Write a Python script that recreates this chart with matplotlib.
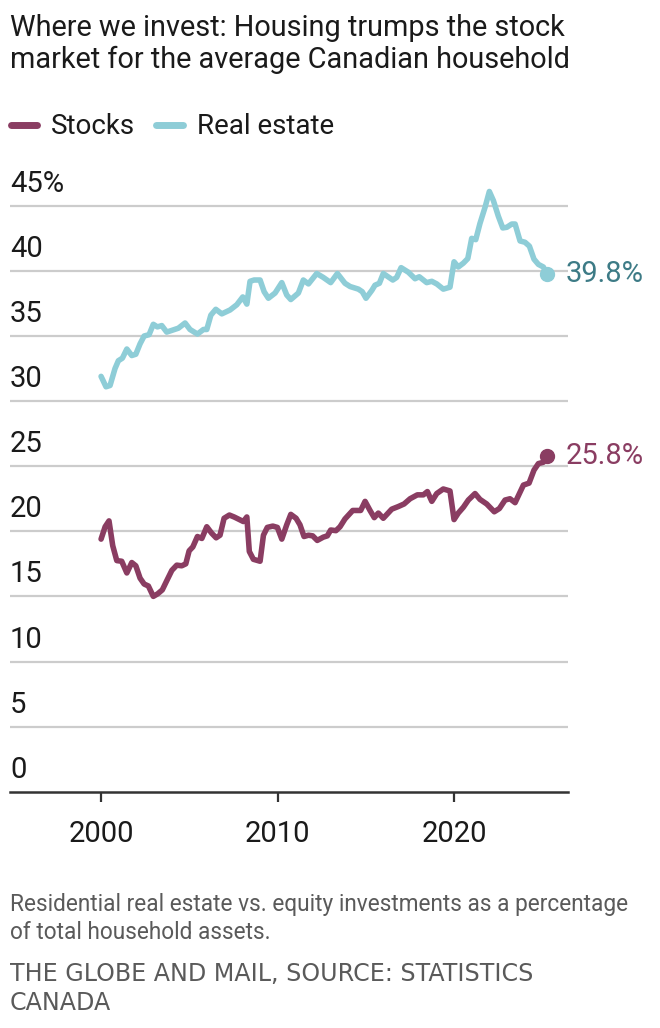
import matplotlib
matplotlib.use("Agg")
import matplotlib.pyplot as plt
import matplotlib.transforms as mtransforms
from matplotlib.lines import Line2D

# ---------------- data ----------------
years_re = [2000.00, 2000.28, 2000.51, 2000.79, 2000.98, 2001.21, 2001.46, 2001.74, 2001.97,
            2002.21, 2002.44, 2002.72, 2002.96, 2003.19, 2003.44, 2003.72, 2004.38, 2004.76,
            2005.04, 2005.46, 2005.80, 2005.99, 2006.22, 2006.50, 2006.84, 2007.31, 2007.69,
            2008.03, 2008.26, 2008.44, 2008.67, 2009.01, 2009.24, 2009.48, 2009.86, 2010.24,
            2010.52, 2010.75, 2011.18, 2011.46, 2011.75, 2012.22, 2012.59, 2013.01, 2013.39,
            2013.82, 2014.11, 2014.58, 2014.80, 2015.01, 2015.34, 2015.52, 2015.77, 2015.99,
            2016.53, 2016.75, 2017.00, 2017.41, 2017.79, 2018.03, 2018.45, 2018.74, 2019.02,
            2019.39, 2019.77, 2020.00, 2020.24, 2020.53, 2020.78, 2021.00, 2021.23, 2021.47,
            2021.76, 2022.00, 2022.23, 2022.51, 2022.76, 2022.99, 2023.27, 2023.46, 2023.74,
            2024.02, 2024.27, 2024.53, 2024.78, 2025.06, 2025.25]
real_estate = [31.9, 31.1, 31.2, 32.5, 33.1, 33.3, 34.0, 33.5, 33.6,
               34.4, 35.0, 35.1, 35.9, 35.7, 35.8, 35.3, 35.6, 36.0,
               35.5, 35.15, 35.5, 35.5, 36.6, 37.05, 36.7, 37.0, 37.4,
               38.0, 37.45, 39.2, 39.3, 39.3, 38.4, 37.9, 38.3, 39.1,
               38.15, 37.8, 38.3, 39.3, 39.0, 39.8, 39.5, 39.1, 39.8,
               39.05, 38.8, 38.6, 38.4, 37.9, 38.5, 38.9, 39.05, 39.8,
               39.3, 39.5, 40.25, 39.9, 39.4, 39.55, 39.1, 39.2, 39.0,
               38.6, 38.75, 40.7, 40.3, 40.6, 40.95, 42.5, 42.4, 43.65,
               44.9, 46.1, 45.4, 44.2, 43.3, 43.35, 43.6, 43.6, 42.3,
               42.2, 41.9, 40.9, 40.5, 40.3, 39.8]

years_st = [2000.00, 2000.23, 2000.45, 2000.66, 2000.89, 2001.17, 2001.46, 2001.74, 2001.97,
            2002.21, 2002.44, 2002.68, 2002.96, 2003.21, 2003.47, 2003.72, 2004.01, 2004.29,
            2004.57, 2004.80, 2004.99, 2005.20, 2005.46, 2005.71, 2005.99, 2006.27, 2006.52,
            2006.74, 2006.97, 2007.27, 2007.54, 2007.84, 2008.06, 2008.26, 2008.40, 2008.63,
            2009.01, 2009.20, 2009.42, 2009.73, 2009.99, 2010.24, 2010.52, 2010.75, 2011.05,
            2011.27, 2011.50, 2011.75, 2011.99, 2012.25, 2012.59, 2012.82, 2013.01, 2013.31,
            2013.54, 2013.82, 2014.26, 2014.71, 2014.96, 2015.24, 2015.48, 2015.71, 2015.99,
            2016.47, 2016.84, 2017.17, 2017.51, 2017.92, 2018.26, 2018.49, 2018.74, 2019.02,
            2019.39, 2019.77, 2020.00, 2020.24, 2020.53, 2020.81, 2021.19, 2021.47, 2021.85,
            2022.28, 2022.57, 2022.89, 2023.17, 2023.46, 2023.93, 2024.25, 2024.53, 2024.78,
            2025.06, 2025.25]
stocks = [19.4, 20.35, 20.8, 18.9, 17.75, 17.7, 16.8, 17.6, 17.35,
          16.4, 15.95, 15.8, 15.0, 15.2, 15.5, 16.2, 17.0, 17.4,
          17.35, 17.5, 18.5, 18.8, 19.6, 19.45, 20.35, 19.85, 19.5,
          19.7, 21.0, 21.25, 21.1, 20.9, 20.75, 21.1, 18.45, 17.85,
          17.7, 19.7, 20.3, 20.4, 20.3, 19.4, 20.5, 21.3, 21.0,
          20.5, 19.6, 19.7, 19.65, 19.3, 19.55, 19.65, 20.1, 20.05,
          20.35, 20.95, 21.6, 21.6, 22.3, 21.6, 21.05, 21.4, 21.0,
          21.7, 21.9, 22.1, 22.5, 22.8, 22.8, 23.05, 22.3, 22.9,
          23.25, 23.1, 20.9, 21.4, 21.85, 22.4, 22.9, 22.45, 22.1,
          21.5, 21.75, 22.4, 22.5, 22.2, 23.55, 23.7, 24.7, 25.2,
          25.3, 25.8]

y_ticks = [0, 5, 10, 15, 20, 25, 30, 35, 40, 45]
y_tick_labels = ["0", "5", "10", "15", "20", "25", "30", "35", "40", "45%"]
x_ticks = [2000, 2010, 2020]
x_tick_labels = ["2000", "2010", "2020"]
series_names = ["Stocks", "Real estate"]

title = "Where we invest: Housing trumps the stock\nmarket for the average Canadian household"
note = "Residential real estate vs. equity investments as a percentage\nof total household assets."
source = "THE GLOBE AND MAIL, SOURCE: STATISTICS\nCANADA"

# ---------------- style ----------------
C_STOCK = "#8a3d62"
C_RE = "#8ecdd7"
C_RE_TXT = "#3d7b86"
C_TEXT = "#1a1a1a"
C_GREY = "#5a5a5a"
FONT = ["Roboto", "DejaVu Sans"]
plt.rcParams["font.family"] = FONT

W, H = 660, 1028
fig = plt.figure(figsize=(W / 100, H / 100), dpi=100)

x0, x1 = 1994.84, 2026.44
ymax = 47.0
left_px, right_px = 10, 567.7
zero_px = 791.7
px_per_unit = 13.02
ax = fig.add_axes([left_px / W, 1 - zero_px / H,
                   (right_px - left_px) / W, ymax * px_per_unit / H])
ax.set_xlim(x0, x1)
ax.set_ylim(0, ymax)

for s in ["top", "right", "left"]:
    ax.spines[s].set_visible(False)
ax.spines["bottom"].set_color("#333333")
ax.spines["bottom"].set_linewidth(1.8)
ax.spines["bottom"].set_zorder(5)

ax.set_yticks(y_ticks[1:])
ax.yaxis.grid(True, color="#cccccc", linewidth=1.6)
ax.tick_params(axis="y", length=0, labelleft=False)
ax.set_axisbelow(True)

ax.set_xticks(x_ticks)
ax.set_xticklabels(x_tick_labels)
ax.tick_params(axis="x", direction="out", length=7.5, width=1.6, color="#333333",
               pad=13, labelsize=21, labelcolor=C_TEXT)

ytrans = mtransforms.blended_transform_factory(ax.transAxes, ax.transData)
for v, lab in zip(y_ticks, y_tick_labels):
    ax.text(0, v, lab, transform=ytrans + mtransforms.ScaledTranslation(0, 8 / 100, fig.dpi_scale_trans),
            ha="left", va="bottom", fontsize=21, color=C_TEXT)

ax.plot(years_re, real_estate, color=C_RE, lw=4.0, solid_joinstyle="round",
        solid_capstyle="round", zorder=3)
ax.plot(years_st, stocks, color=C_STOCK, lw=4.0, solid_joinstyle="round",
        solid_capstyle="round", zorder=3)
ax.plot([years_re[-1]], [real_estate[-1]], "o", color=C_RE, ms=10, zorder=4, clip_on=False)
ax.plot([years_st[-1]], [stocks[-1]], "o", color=C_STOCK, ms=10, zorder=4, clip_on=False)

off = mtransforms.ScaledTranslation(19 / 100, 0, fig.dpi_scale_trans)
ax.text(years_re[-1], real_estate[-1], f"{real_estate[-1]:.1f}%", transform=ax.transData + off,
        ha="left", va="center", fontsize=21, color=C_RE_TXT, clip_on=False)
ax.text(years_st[-1], stocks[-1], f"{stocks[-1]:.1f}%", transform=ax.transData + off,
        ha="left", va="center", fontsize=21, color=C_STOCK, clip_on=False)

# title
fig.text(10 / W, 1 - 14 / H, title, ha="left", va="top", fontsize=20.8, color=C_TEXT,
         linespacing=1.18)

# legend
handles = [Line2D([], [], color=C_STOCK, lw=5, solid_capstyle="round"),
           Line2D([], [], color=C_RE, lw=5, solid_capstyle="round")]
fig.legend(handles, series_names, loc="center left", bbox_to_anchor=(11 / W, 1 - 127 / H),
           ncol=2, frameon=False, fontsize=20, handlelength=0.95, handletextpad=0.5,
           columnspacing=0.75, labelcolor=C_TEXT, borderaxespad=0, borderpad=0)

# footer
fig.text(10 / W, 1 - 893 / H, note, ha="left", va="top", fontsize=16.3, color=C_GREY,
         linespacing=1.28)
fig.text(10 / W, 1 - 962 / H, source, ha="left", va="top", fontsize=17.1, color=C_GREY,
         linespacing=1.28, family=["DejaVu Sans"])

fig.savefig("out.png", dpi=100)
